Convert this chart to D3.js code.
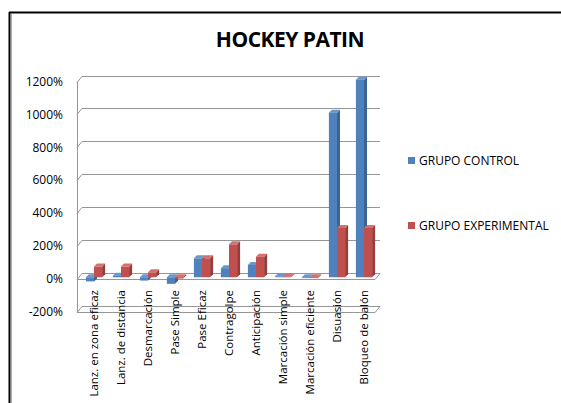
<!DOCTYPE html>
<html><head><meta charset="utf-8">
<script src="https://cdn.jsdelivr.net/npm/d3@7/dist/d3.min.js"></script>
<style>body{margin:0;background:#fff}svg{display:block}text{font-family:"Open Sans",sans-serif}</style>
</head><body>
<script>
const categories = ["Lanz. en zona eficaz","Lanz. de distancia","Desmarcación","Pase Simple","Pase Eficaz","Contragolpe","Anticipación","Marcación simple","Marcación eficiente","Disuasión","Bloqueo de balón"];
const grupoControl = [-25, 10, -20, -40, 115, 55, 75, 5, -5, 1000, 1200];
const grupoExperimental = [65, 65, 30, -8, 115, 200, 125, 5, -5, 300, 300];
const seriesNames = ["GRUPO CONTROL","GRUPO EXPERIMENTAL"];
const yTicks = [-200, 0, 200, 400, 600, 800, 1000, 1200];

const W = 561, H = 403;
const svg = d3.select("body").append("svg").attr("width", W).attr("height", H);

// frame
svg.append("line").attr("x1",9).attr("x2",W).attr("y1",12.5).attr("y2",12.5).attr("stroke","#000").attr("stroke-width",2);
svg.append("line").attr("x1",9.5).attr("x2",9.5).attr("y1",12).attr("y2",H).attr("stroke","#000").attr("stroke-width",2);
svg.append("line").attr("x1",11.5).attr("x2",11.5).attr("y1",14).attr("y2",H).attr("stroke","#aaa").attr("stroke-width",1);

// title
svg.append("text").attr("x",290).attr("y",47).attr("text-anchor","middle")
  .attr("font-size",21).attr("font-weight","bold").attr("letter-spacing",-0.5).text("HOCKEY PATIN");

const DX = 5, DY = -6;
const x0 = 77, xEnd = 375;
const y = d3.scaleLinear().domain([-200, 1200]).range([312, 81.5]);
const x = d3.scaleBand().domain(categories).range([79, 376]).paddingInner(0.4).paddingOuter(0.2);
const xs = d3.scaleBand().domain(seriesNames).range([0, x.bandwidth()]);

const grid = svg.append("g").attr("stroke","#969696").attr("stroke-width",1).attr("fill","none");
grid.append("line").attr("x1",x0+0.5).attr("x2",x0+0.5).attr("y1",y(1200)).attr("y2",y(-200));
yTicks.forEach(t => {
  const yy = Math.round(y(t)) + 0.5;
  grid.append("path").attr("d", `M${x0},${yy} L${x0+DX},${yy+DY} L${xEnd+DX},${yy+DY}`);
  if (t === -200 || t === 0) {
    grid.append("path").attr("d", `M${x0},${yy} L${xEnd},${yy} L${xEnd+DX},${yy+DY}`);
  }
});

// y tick labels
svg.append("g").selectAll("text").data(yTicks).join("text")
  .attr("x", 63).attr("y", d => y(d)).attr("dy","0.35em").attr("text-anchor","end")
  .attr("font-size",12).attr("fill","#000").text(d => d + "%");

// bars (3D)
const colors = {"GRUPO CONTROL":["#4F81BD","#3a6496","#6d97cc"], "GRUPO EXPERIMENTAL":["#C0504D","#963c3a","#d4716e"]};
const off = {dx:1.5, dy:-1.8};
const dep = {dx:3, dy:-3};
const bars = svg.append("g");
const data = [];
categories.forEach((c,i) => {
  data.push({c, s:seriesNames[0], v:grupoControl[i]});
  data.push({c, s:seriesNames[1], v:grupoExperimental[i]});
});
data.forEach(d => {
  const bx = x(d.c) + xs(d.s) + off.dx;
  const bw = xs.bandwidth();
  const ya = y(Math.max(0,d.v)) + off.dy, yb = y(Math.min(0,d.v)) + off.dy;
  const [front, side, top] = colors[d.s];
  bars.append("path").attr("fill", side)
    .attr("d", `M${bx+bw},${ya} L${bx+bw+dep.dx},${ya+dep.dy} L${bx+bw+dep.dx},${yb+dep.dy} L${bx+bw},${yb}Z`);
  bars.append("path").attr("fill", top)
    .attr("d", `M${bx},${ya} L${bx+dep.dx},${ya+dep.dy} L${bx+bw+dep.dx},${ya+dep.dy} L${bx+bw},${ya}Z`);
  bars.append("rect").attr("x",bx).attr("y",ya).attr("width",bw).attr("height",Math.max(0.8,yb-ya)).attr("fill",front);
});

// x labels
svg.append("g").selectAll("text").data(categories).join("text")
  .attr("transform", d => `translate(${x(d)+x.bandwidth()/2+1},290) rotate(-90)`)
  .attr("text-anchor","end").attr("dy","0.35em").attr("font-size",11.5).attr("fill","#000").text(d => d);

// legend
const leg = svg.append("g");
seriesNames.forEach((s,i) => {
  const ly = 160.5 + i*65;
  leg.append("rect").attr("x",408).attr("y",ly-3.5).attr("width",7).attr("height",7).attr("fill",colors[s][0]);
  leg.append("text").attr("x",419).attr("y",ly).attr("dy","0.35em").attr("font-size",12).text(s);
});
</script>
</body></html>
